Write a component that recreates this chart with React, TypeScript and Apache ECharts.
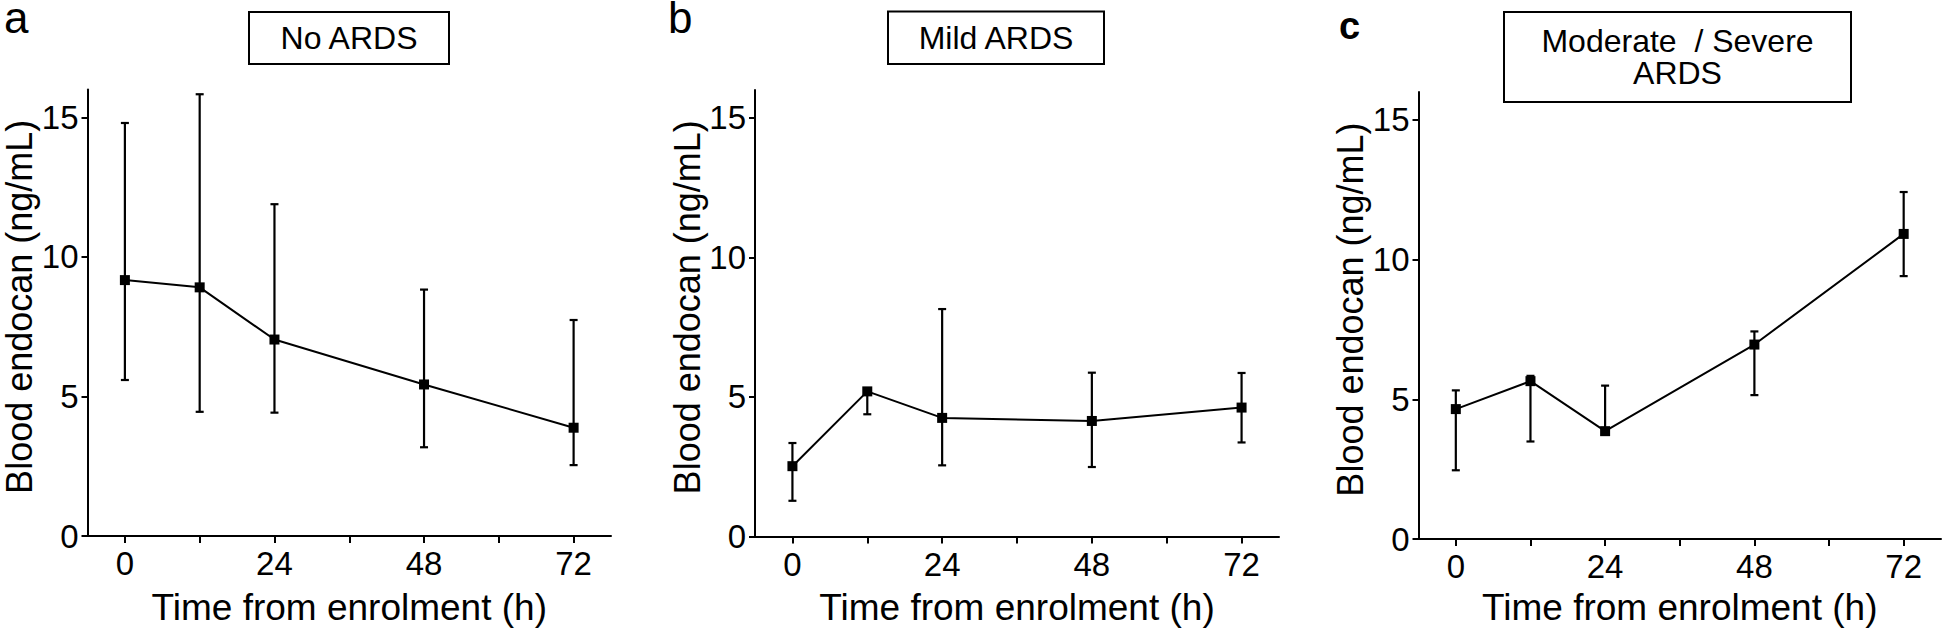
import React, { useEffect, useRef } from "react";
import * as echarts from "echarts";

const hours = [0, 12, 24, 48, 72];
const xTickValues = [0, 12, 24, 36, 48, 60, 72];
const xLabelValues = [0, 24, 48, 72];
const yTickValues = [0, 5, 10, 15];

const noArdsMean = [9.17, 8.91, 7.04, 5.43, 3.88];
const noArdsUpper = [14.8, 15.83, 11.89, 8.83, 7.74];
const noArdsLower = [5.59, 4.45, 4.42, 3.18, 2.54];

const mildMean = [2.52, 5.2, 4.25, 4.14, 4.62];
const mildUpper = [3.35, 5.25, 8.15, 5.87, 5.86];
const mildLower = [1.28, 4.38, 2.55, 2.49, 3.37];

const severeMean = [4.65, 5.65, 3.86, 6.96, 10.92];
const severeUpper = [5.32, 5.84, 5.49, 7.43, 12.42];
const severeLower = [2.46, 3.49, 3.8, 5.15, 9.41];

const panelLetters = ["a", "b", "c"];
const panelTitles = [["No ARDS"], ["Mild ARDS"], ["Moderate  / Severe", "ARDS"]];
const yAxisTitle = "Blood endocan (ng/mL)";
const xAxisTitle = "Time from enrolment (h)";

const FONT = "'Liberation Sans', Arial, Helvetica, sans-serif";

export default function App() {
  const ref = useRef<HTMLDivElement>(null);

  useEffect(() => {
    if (!ref.current) return;
    const chart = echarts.init(ref.current, undefined, { renderer: "svg" });

    const grids = [
      { left: 87.5, top: 89.5, width: 523.5, height: 446.5 },
      { left: 755, top: 90, width: 524, height: 446.5 },
      { left: 1418.5, top: 92, width: 522.5, height: 447 },
    ];
    const means = [noArdsMean, mildMean, severeMean];
    const uppers = [noArdsUpper, mildUpper, severeUpper];
    const lowers = [noArdsLower, mildLower, severeLower];

    const xAxes = grids.map((_, i) => ({
      type: "value",
      gridIndex: i,
      min: -6,
      max: 78,
      splitLine: { show: false },
      axisLine: { show: true, onZero: false, lineStyle: { color: "#000", width: 2 } },
      axisTick: { show: true, length: 7, lineStyle: { color: "#000", width: 2 }, customValues: xTickValues },
      axisLabel: { color: "#000", fontSize: 33, fontFamily: FONT, margin: 11, customValues: xLabelValues },
    }));
    const yAxes = grids.map((_, i) => ({
      type: "value",
      gridIndex: i,
      min: 0,
      max: 16,
      splitLine: { show: false },
      axisLine: { show: true, onZero: false, lineStyle: { color: "#000", width: 2 } },
      axisTick: { show: true, length: 6, lineStyle: { color: "#000", width: 2 }, customValues: yTickValues },
      axisLabel: { color: "#000", fontSize: 33, fontFamily: FONT, margin: 9, customValues: yTickValues },
    }));

    const series: any[] = [];
    grids.forEach((_, i) => {
      series.push({
        type: "custom",
        xAxisIndex: i,
        yAxisIndex: i,
        z: 2,
        data: hours.map((h, k) => [h, lowers[i][k], uppers[i][k]]),
        encode: { x: 0, y: [1, 2] },
        renderItem: (params: any, api: any) => {
          const x = api.value(0);
          const pLo = api.coord([x, api.value(1)]);
          const pHi = api.coord([x, api.value(2)]);
          const hw = 4;
          const st = { stroke: "#000", lineWidth: 2.2 };
          return {
            type: "group",
            children: [
              { type: "line", shape: { x1: pHi[0], y1: pHi[1], x2: pLo[0], y2: pLo[1] }, style: st },
              { type: "line", shape: { x1: pHi[0] - hw, y1: pHi[1], x2: pHi[0] + hw, y2: pHi[1] }, style: st },
              { type: "line", shape: { x1: pLo[0] - hw, y1: pLo[1], x2: pLo[0] + hw, y2: pLo[1] }, style: st },
            ],
          };
        },
      });
      series.push({
        type: "line",
        xAxisIndex: i,
        yAxisIndex: i,
        z: 3,
        data: hours.map((h, k) => [h, means[i][k]]),
        symbol: "rect",
        symbolSize: 10,
        itemStyle: { color: "#000" },
        lineStyle: { color: "#000", width: 2 },
      });
    });

    const letterPos = [
      { x: 4, y: 17, size: 44, weight: "normal" },
      { x: 668, y: 17, size: 44, weight: "normal" },
      { x: 1339, y: 26, size: 38, weight: "bold" },
    ];
    const boxes = [
      { x: 249, y: 12, w: 200, h: 52 },
      { x: 888, y: 11.5, w: 216, h: 52.5 },
      { x: 1504, y: 12, w: 347, h: 90 },
    ];

    const graphics: any[] = [];
    grids.forEach((g, i) => {
      const lp = letterPos[i];
      graphics.push({
        type: "text",
        x: lp.x,
        y: lp.y,
        style: { text: panelLetters[i], fontSize: lp.size, lineHeight: 34, fontWeight: lp.weight, fontFamily: FONT, fill: "#000", align: "left", verticalAlign: "middle" },
      });
      const b = boxes[i];
      graphics.push({
        type: "rect",
        shape: { x: b.x, y: b.y, width: b.w, height: b.h },
        style: { fill: "#fff", stroke: "#000", lineWidth: 2 },
      });
      const lines = panelTitles[i];
      const cx = b.x + b.w / 2;
      const cy = b.y + b.h / 2;
      const lh = 31.5;
      lines.forEach((t, k) => {
        graphics.push({
          type: "text",
          x: cx,
          y: cy + (k - (lines.length - 1) / 2) * lh,
          style: { text: t, fontSize: 32, fontFamily: FONT, fill: "#000", align: "center", verticalAlign: "middle" },
        });
      });
      graphics.push({
        type: "text",
        x: g.left - 68,
        y: g.top + g.height / 2 - 6,
        rotation: Math.PI / 2,
        style: { text: yAxisTitle, fontSize: 36, lineHeight: 34, fontFamily: FONT, fill: "#000", align: "center", verticalAlign: "middle" },
      });
      graphics.push({
        type: "text",
        x: g.left + g.width / 2,
        y: 607,
        style: { text: xAxisTitle, fontSize: 37, lineHeight: 37, fontFamily: FONT, fill: "#000", align: "center", verticalAlign: "middle" },
      });
    });

    chart.setOption({
      animation: false,
      backgroundColor: "#fff",
      grid: grids.map((g) => ({ ...g, containLabel: false })),
      xAxis: xAxes,
      yAxis: yAxes,
      series,
      graphic: graphics,
    });

    return () => chart.dispose();
  }, []);

  return <div ref={ref} style={{ position: "fixed", left: 0, top: 0, width: 1942, height: 630 }} />;
}
